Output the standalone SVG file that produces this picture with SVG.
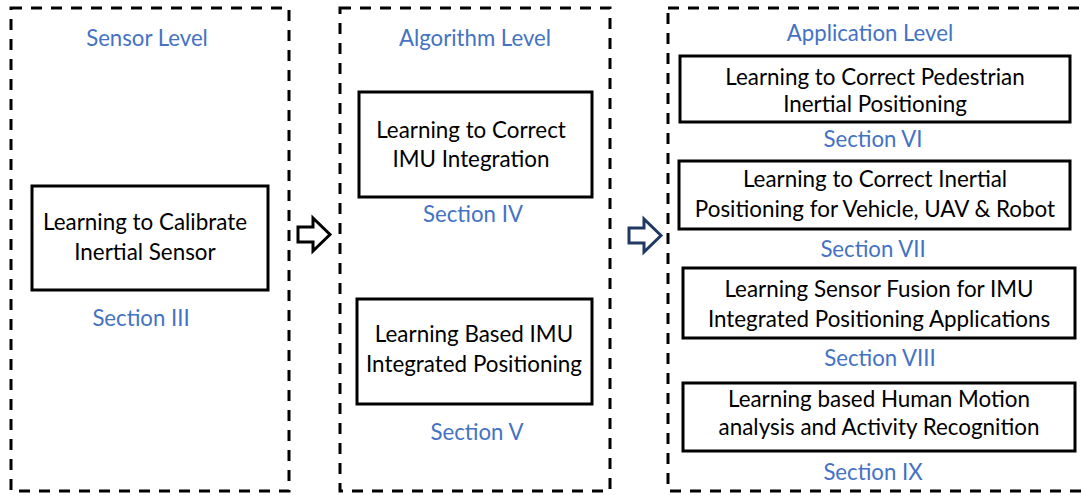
<svg xmlns="http://www.w3.org/2000/svg" width="1083" height="495" viewBox="0 0 1083 495">
<style>
.panel{fill:none;stroke:#000;stroke-width:3;stroke-dasharray:11 9}
.box{fill:#fff;stroke:#000;stroke-width:3}
.t{font-family:Lato,"Open Sans",sans-serif;font-size:22.4px;fill:#000;text-anchor:middle}
.s{font-family:Lato,"Open Sans",sans-serif;font-size:22.2px;fill:#4472C4;text-anchor:middle}
</style>
<rect width="1083" height="495" fill="#fff"/>
<g id="panel-sensor">
<rect class="panel" x="11" y="8" width="278" height="483"/>
<text class="s" x="147" y="46">Sensor Level</text>
</g>
<g id="panel-algorithm">
<rect class="panel" x="340" y="8" width="270" height="483"/>
<text class="s" x="475" y="46">Algorithm Level</text>
</g>
<g id="panel-application">
<rect class="panel" x="668" y="8" width="425" height="483"/>
<text class="s" x="870" y="41">Application Level</text>
</g>
<g id="node-calibrate">
<rect class="box" x="32" y="186" width="236" height="104"/>
<text class="t" x="145" y="230">Learning to Calibrate</text>
<text class="t" x="145" y="260">Inertial Sensor</text>
<text class="s" x="141" y="326">Section III</text>
</g>
<g id="node-imu-integration">
<rect class="box" x="359" y="92" width="233" height="105"/>
<text class="t" x="471" y="138">Learning to Correct</text>
<text class="t" x="471" y="167">IMU Integration</text>
<text class="s" x="473" y="222">Section IV</text>
</g>
<g id="node-imu-positioning">
<rect class="box" x="357" y="299" width="235" height="105"/>
<text class="t" x="474" y="342">Learning Based IMU</text>
<text class="t" x="474" y="372">Integrated Positioning</text>
<text class="s" x="477" y="440">Section V</text>
</g>
<g id="node-pedestrian">
<rect class="box" x="680" y="56" width="390" height="66"/>
<text class="t" x="875" y="85">Learning to Correct Pedestrian</text>
<text class="t" x="875" y="112">Inertial Positioning</text>
<text class="s" x="873" y="147">Section VI</text>
</g>
<g id="node-vehicle">
<rect class="box" x="679" y="161" width="391" height="68"/>
<text class="t" x="875" y="187">Learning to Correct Inertial</text>
<text class="t" x="875" y="217">Positioning for Vehicle, UAV &amp; Robot</text>
<text class="s" x="873" y="257">Section VII</text>
</g>
<g id="node-fusion">
<rect class="box" x="683" y="268" width="392" height="70"/>
<text class="t" x="879" y="297">Learning Sensor Fusion for IMU</text>
<text class="t" x="879" y="327">Integrated Positioning Applications</text>
<text class="s" x="880" y="366">Section VIII</text>
</g>
<g id="node-human-motion">
<rect class="box" x="683" y="383" width="392" height="68"/>
<text class="t" x="879" y="407">Learning based Human Motion</text>
<text class="t" x="879" y="435">analysis and Activity Recognition</text>
<text class="s" x="873" y="480">Section IX</text>
</g>
<g id="connectors">
<path d="M298 227 H313 V218 L330 234.5 L313 251 V242 H298 Z" fill="#fff" stroke="#000" stroke-width="3" stroke-linejoin="miter"/>
<path d="M629 228 H644 V219 L661 235.5 L644 252 V243 H629 Z" fill="#fff" stroke="#1F3864" stroke-width="3" stroke-linejoin="miter"/>
</g>
</svg>
